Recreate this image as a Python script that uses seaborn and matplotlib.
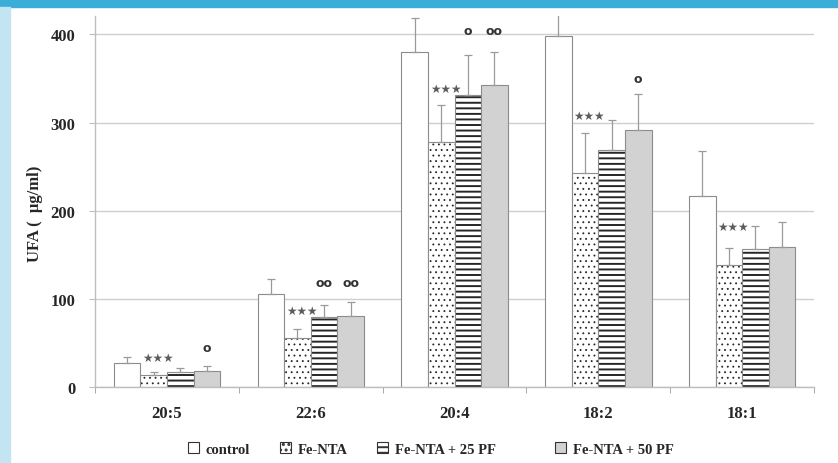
import numpy as np
import pandas as pd
import matplotlib
matplotlib.use("Agg")
import matplotlib.pyplot as plt
import matplotlib.colors as mcolors
from matplotlib.patches import Patch, Rectangle
import seaborn as sns

# Unsaturated fatty acids (µg/ml), mean and SD per treatment
acids = ["20:5", "22:6", "20:4", "18:2", "18:1"]
groups = ["control", "Fe-NTA", "Fe-NTA + 25 PF", "Fe-NTA + 50 PF"]
control = [27, 105, 380, 398, 217]
fe_nta = [14, 56, 278, 243, 138]
fe_nta_25pf = [17, 79, 331, 269, 157]
fe_nta_50pf = [18.5, 81, 343, 292, 159]
sd_control = [7, 17, 39, 30, 51]
sd_fe_nta = [3, 10, 42, 45, 20]
sd_fe_nta_25pf = [4, 14, 46, 34, 26]
sd_fe_nta_50pf = [5, 15, 37, 40, 28]

# Significance marks: (acid index, group index, text, y position)
marks = [
    (0, 1, "★★★", 34), (0, 3, "o", 45),
    (1, 1, "★★★", 87), (1, 2, "oo", 119), (1, 3, "oo", 119),
    (2, 1, "★★★", 339), (2, 2, "o", 405), (2, 3, "oo", 405),
    (3, 1, "★★★", 308), (3, 3, "o", 350),
    (4, 1, "★★★", 182),
]

values = [control, fe_nta, fe_nta_25pf, fe_nta_50pf]
sds = [sd_control, sd_fe_nta, sd_fe_nta_25pf, sd_fe_nta_50pf]
df = pd.DataFrame({
    "acid": np.repeat([acids], 4, axis=0).ravel(),
    "group": np.repeat(groups, len(acids)),
    "ufa": np.concatenate(values),
})

fills = ["#ffffff", "#ffffff", "#ffffff", "#d2d2d2"]
hatches = [None, "...", "---", None]
hatch_widths = [None, 0.6, 1.4, None]
edge = "#8c8c8c"
hatch_ink = "#262626"

sns.set_style("white")
plt.rcParams["font.family"] = ["Liberation Serif", "DejaVu Sans"]
plt.rcParams["hatch.linewidth"] = 1.4

fig = plt.figure(figsize=(8.38, 4.64), dpi=100)
ax = fig.add_axes([0.1134, 0.1638, 0.858, 0.7996])

sns.barplot(data=df, x="acid", y="ufa", hue="group", order=acids,
            hue_order=groups, palette=fills, width=0.74, gap=0,
            errorbar=None, edgecolor=edge, linewidth=0.8, legend=False,
            ax=ax, zorder=2)


def style_patch(p, hatch, lw, ink=hatch_ink):
    if not hatch:
        return
    p.set_hatch(hatch)
    if hasattr(p, "set_hatchcolor"):
        p.set_hatchcolor(ink)
    else:
        p._hatch_color = mcolors.to_rgba(ink)
    if hasattr(p, "set_hatch_linewidth"):
        p.set_hatch_linewidth(lw)
    else:
        p._hatch_linewidth = lw


bars = [p for p in ax.patches if isinstance(p, Rectangle)]
n = len(acids)
centers = np.zeros((4, n))
for gi in range(4):
    for ai in range(n):
        p = bars[gi * n + ai]
        style_patch(p, hatches[gi], hatch_widths[gi])
        centers[gi, ai] = p.get_x() + p.get_width() / 2

# upper error bars
for gi in range(4):
    ax.errorbar(centers[gi], values[gi],
                yerr=[np.zeros(n), sds[gi]], fmt="none",
                ecolor="#9a9a9a", elinewidth=0.9, capsize=3,
                capthick=0.9, zorder=3)

for ai, gi, txt, y in marks:
    if "★" in txt:
        ax.text(centers[gi, ai] + 0.03, y, txt, ha="center", va="center",
                fontsize=8.5, color="#5c5c5c", family=["DejaVu Sans"],
                zorder=4)
    else:
        ax.text(centers[gi, ai], y, txt, ha="center", va="center",
                fontsize=9, fontweight="bold", color="#333333",
                family=["DejaVu Sans"], zorder=4)

ax.set_xlim(-0.5, n - 0.5)
ax.set_ylim(0, 421)
ax.set_yticks([0, 100, 200, 300, 400])
ax.yaxis.grid(True, color="#cfcfcf", linewidth=1.0, zorder=0)
ax.set_axisbelow(True)
for s in ["top", "right"]:
    ax.spines[s].set_visible(False)
for s in ["left", "bottom"]:
    ax.spines[s].set_color("#bdbdbd")
    ax.spines[s].set_linewidth(1.0)

ax.set_xticks(range(n))
ax.set_xticklabels(acids, fontsize=12, fontweight="bold")
ax.set_xticks(np.arange(-0.5, n), minor=True)
ax.tick_params(axis="x", which="major", length=0, pad=13)
ax.tick_params(axis="x", which="minor", length=4, color="#9a9a9a",
               direction="out", bottom=True)
ax.tick_params(axis="y", length=4, color="#bdbdbd", direction="out",
               left=True, labelsize=12, pad=10)
for lab in ax.get_yticklabels():
    lab.set_fontweight("bold")

ax.set_xlabel("")
ax.set_ylabel("UFA (  μg/ml)", fontsize=12, fontweight="bold")
ax.yaxis.set_label_coords(-0.073, 0.47)

# legend entries, one per treatment
legend_x = [188, 280, 377, 555]
for gi in range(4):
    h = Patch(facecolor=fills[gi], edgecolor="#333333", linewidth=0.8,
              label=groups[gi])
    if hatches[gi]:
        h.set_hatch(hatches[gi])
    fig.legend(handles=[h], loc="center left",
               bbox_to_anchor=(legend_x[gi] / 838, 0.03),
               frameon=False, borderpad=0, borderaxespad=0,
               handlelength=0.75, handleheight=0.75, handletextpad=0.45,
               prop={"family": "Liberation Serif", "weight": "bold",
                     "size": 10.5})

# page frame decoration
fig.patches.append(Rectangle((0, 1 - 8 / 464), 1, 8 / 464,
                             transform=fig.transFigure, color="#3aaed8",
                             zorder=0))
fig.patches.append(Rectangle((0, 0), 10 / 838, 1 - 8 / 464,
                             transform=fig.transFigure, color="#c3e4f2",
                             zorder=0))

fig.savefig("out.png", dpi=100)
